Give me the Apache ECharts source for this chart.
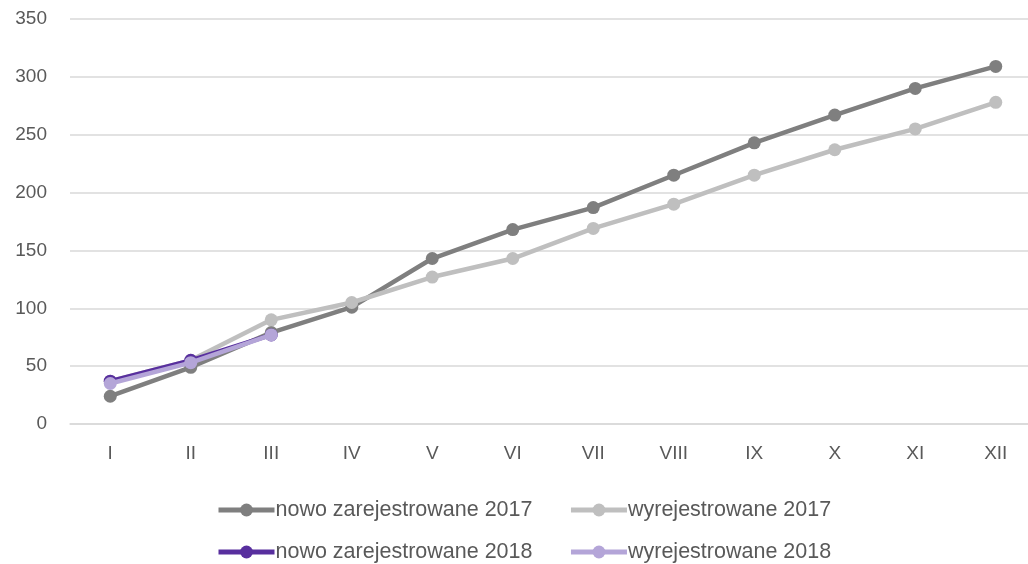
<!DOCTYPE html>
<html>
<head>
<meta charset="utf-8">
<script src="https://cdn.jsdelivr.net/npm/echarts@6/dist/echarts.min.js"></script>
<style>
  html, body { margin: 0; padding: 0; background: #fff; overflow: hidden; }
  #chart { width: 1036px; height: 564px; }
</style>
</head>
<body>
<div id="chart"></div>
<script>
// miesiące
const months = ["I", "II", "III", "IV", "V", "VI", "VII", "VIII", "IX", "X", "XI", "XII"];
const nowo2017 = [24, 49, 79, 101, 143, 168, 187, 215, 243, 267, 290, 309];
const wyrej2017 = [37, 55, 90, 105, 127, 143, 169, 190, 215, 237, 255, 278];
const nowo2018 = [37, 55, 77];
const wyrej2018 = [35, 53, 77];

const names = ["nowo zarejestrowane 2017", "wyrejestrowane 2017", "nowo zarejestrowane 2018", "wyrejestrowane 2018"];
const colors = ["#7f7f7f", "#bfbfbf", "#582f9e", "#b4a5d8"];

const font = "Liberation Sans, Arial, sans-serif";

function mkSeries(i, data) {
  return {
    name: names[i],
    type: "line",
    data: data,
    symbol: "circle",
    symbolSize: 13,
    lineStyle: { width: 4.5, color: colors[i] },
    itemStyle: { color: colors[i] },
    emphasis: { disabled: true },
    z: 2 + i
  };
}

const chart = echarts.init(document.getElementById("chart"));
const legendBase = {
  itemWidth: 56,
  itemHeight: 16,
  itemGap: 36,
  lineStyle: { width: 5 },
  textStyle: { color: "#595959", fontSize: 21.5, fontFamily: font, padding: [0, 0, 0, -4] }
};
chart.setOption({
  animation: false,
  grid: { left: 70, top: 19, right: 0, height: 405, containLabel: false },
  legend: [
    Object.assign({ data: [names[0], names[1]], left: 211, top: 494 }, legendBase),
    Object.assign({ data: [names[2], names[3]], left: 211, top: 536 }, legendBase)
  ],
  xAxis: {
    type: "category",
    data: months,
    boundaryGap: true,
    axisLine: { lineStyle: { color: "#d9d9d9", width: 1.5 } },
    axisTick: { show: false },
    axisLabel: { color: "#595959", fontSize: 19, fontFamily: font, margin: 20 }
  },
  yAxis: {
    type: "value",
    min: 0,
    max: 350,
    interval: 50,
    axisLine: { show: false },
    axisTick: { show: false },
    splitLine: { lineStyle: { color: "#d9d9d9", width: 1.5 } },
    axisLabel: { color: "#595959", fontSize: 19, fontFamily: font, margin: 23 }
  },
  series: [
    mkSeries(0, nowo2017),
    mkSeries(1, wyrej2017),
    mkSeries(2, nowo2018),
    mkSeries(3, wyrej2018)
  ]
});
</script>
</body>
</html>
